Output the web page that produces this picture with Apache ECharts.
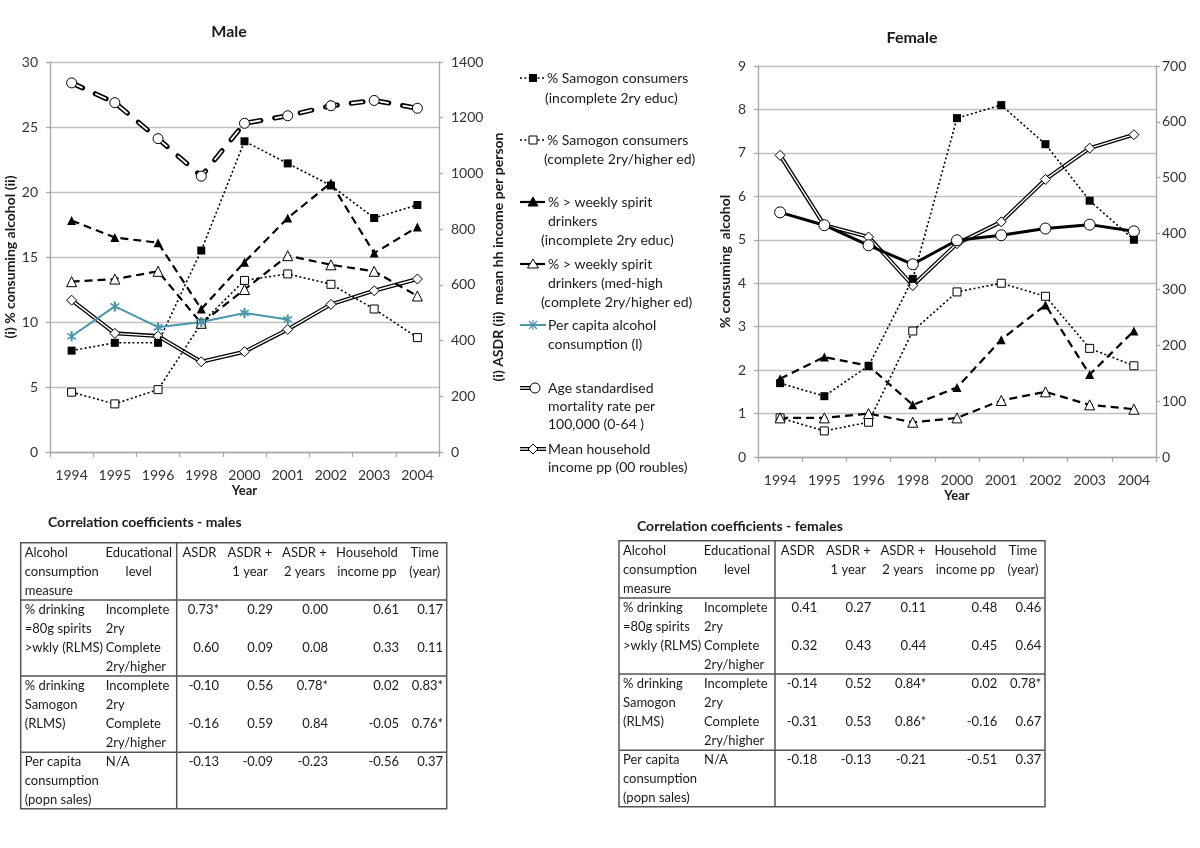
<!DOCTYPE html>
<html><head><meta charset="utf-8">
<script src="https://cdn.jsdelivr.net/npm/echarts@6/dist/echarts.min.js"></script>
<style>html,body{margin:0;padding:0;background:#fff}#c{width:1200px;height:848px}</style>
</head><body><div id="c"></div>
<script>
// ---------- DATA ----------
const years = ['1994','1995','1996','1998','2000','2001','2002','2003','2004'];
// Male: % consuming alcohol (left axis)
const maleSamogonIncomplete = [7.8, 8.4, 8.4, 15.5, 23.9, 22.2, 20.5, 18.0, 19.0];
const maleSamogonComplete   = [4.6, 3.7, 4.8, 9.9, 13.2, 13.7, 12.9, 11.0, 8.8];
const maleWeeklyIncomplete  = [17.8, 16.5, 16.1, 11.0, 14.6, 18.0, 20.7, 15.3, 17.3];
const maleWeeklyComplete    = [13.1, 13.3, 13.9, 9.9, 12.5, 15.1, 14.4, 13.9, 12.0];
const malePerCapita         = [8.9, 11.2, 9.6, 10.0, 10.7, 10.2, null, null, null];
// Male: right axis
const maleASDR   = [1325, 1254, 1125, 990, 1180, 1207, 1243, 1262, 1234];
const maleIncome = [545, 426, 416, 324, 360, 440, 530, 579, 621];
// Female: % consuming alcohol (left axis)
const femaleSamogonIncomplete = [1.7, 1.4, 2.1, 4.1, 7.8, 8.1, 7.2, 5.9, 5.0];
const femaleSamogonComplete   = [0.9, 0.6, 0.8, 2.9, 3.8, 4.0, 3.7, 2.5, 2.1];
const femaleWeeklyIncomplete  = [1.8, 2.3, 2.1, 1.2, 1.6, 2.7, 3.5, 1.9, 2.9];
const femaleWeeklyComplete    = [0.9, 0.9, 1.0, 0.8, 0.9, 1.3, 1.5, 1.2, 1.1];
// Female: right axis
const femaleASDR   = [438, 415, 379, 345, 388, 397, 409, 416, 404];
const femaleIncome = [540, 415, 394, 307, 382, 421, 497, 553, 577];

const legendLabels = [
  ['% Samogon consumers', '(incomplete 2ry educ)'],
  ['% Samogon consumers', '(complete 2ry/higher ed)'],
  ['% > weekly spirit', 'drinkers', '(incomplete 2ry educ)'],
  ['% > weekly spirit', 'drinkers (med-high', '(complete 2ry/higher ed)'],
  ['Per capita alcohol', 'consumption (l)'],
  ['Age standardised', 'mortality rate per', '100,000 (0-64 )'],
  ['Mean household', 'income pp (00 roubles)']
];

// Correlation tables
const tableHeader = [['Alcohol','consumption','measure'], ['Educational','level'], ['ASDR'], ['ASDR +','1 year'], ['ASDR +','2 years'], ['Household','income pp'], ['Time','(year)']];
const measureLabels = [['% drinking','=80g spirits','>wkly (RLMS)'], ['% drinking','Samogon','(RLMS)'], ['Per capita','consumption','(popn sales)']];
const eduLabels = [['Incomplete','2ry','Complete','2ry/higher'], ['Incomplete','2ry','Complete','2ry/higher'], ['N/A']];
const maleCorr = [
  ['0.73*','0.29','0.00','0.61','0.17'],
  ['0.60','0.09','0.08','0.33','0.11'],
  ['-0.10','0.56','0.78*','0.02','0.83*'],
  ['-0.16','0.59','0.84','-0.05','0.76*'],
  ['-0.13','-0.09','-0.23','-0.56','0.37']
];
const femaleCorr = [
  ['0.41','0.27','0.11','0.48','0.46'],
  ['0.32','0.43','0.44','0.45','0.64'],
  ['-0.14','0.52','0.84*','0.02','0.78*'],
  ['-0.31','0.53','0.86*','-0.16','0.67'],
  ['-0.18','-0.13','-0.21','-0.51','0.37']
];

// ---------- STYLE ----------
const FONT = 'Lato, "Liberation Sans", sans-serif';
const AXIS_GRAY = '#a6a6a6';
const GRID_GRAY = '#c0c0c0';
const LABEL_COL = '#333333';
const TEXT_COL = '#1a1a1a';
const TEAL = '#4a97ab';
const ASTERISK = 'path://M-0.9,-6 L0.9,-6 L0.9,6 L-0.9,6 Z M2.97,-4.11 L4.11,-2.97 L-2.97,4.11 L-4.11,2.97 Z M-4.11,-2.97 L-2.97,-4.11 L4.11,2.97 L2.97,4.11 Z';

function catAxis(gi, labelMargin) {
  return {
    type: 'category', gridIndex: gi, data: years, boundaryGap: true,
    axisLine: { lineStyle: { color: AXIS_GRAY, width: 1.3 } },
    axisTick: { show: true, length: 5, interval: 0, lineStyle: { color: AXIS_GRAY, width: 1.3 } },
    axisLabel: { color: LABEL_COL, fontSize: 14, fontFamily: FONT, margin: labelMargin, interval: 0 },
    name: 'Year', nameLocation: 'middle', nameGap: 32,
    nameTextStyle: { fontWeight: 'bold', fontSize: 13, color: TEXT_COL, fontFamily: FONT }
  };
}
function valAxis(gi, max, interval, pos, split, labelMargin, name, nameGap) {
  return {
    type: 'value', gridIndex: gi, min: 0, max: max, interval: interval, position: pos,
    axisLine: { show: true, lineStyle: { color: AXIS_GRAY, width: 1.3 } },
    axisTick: { show: true, length: 4, lineStyle: { color: AXIS_GRAY, width: 1.3 } },
    splitLine: { show: split, lineStyle: { color: GRID_GRAY, width: 1.3 } },
    axisLabel: { color: LABEL_COL, fontSize: 14, fontFamily: FONT, margin: labelMargin,
      formatter: function (v) { return String(v); } },
    name: name, nameLocation: 'middle', nameRotate: 90, nameGap: nameGap,
    nameTextStyle: { fontWeight: 'bold', fontSize: 14, color: TEXT_COL, fontFamily: FONT }
  };
}

function lineSeries(name, data, xi, yi, o) {
  return Object.assign({
    type: 'line', name: name, data: data, xAxisIndex: xi, yAxisIndex: yi,
    connectNulls: false, animation: false, silent: true
  }, o);
}
const dotted = { color: '#000', width: 1.6, type: [2, 2.4] };
const dashed = { color: '#000', width: 2.2, type: [8, 5] };

function alcoholSeries(xi, samInc, samCom, wkInc, wkCom) {
  return [
    lineSeries('% Samogon consumers (incomplete 2ry educ)', samInc, xi, xi * 2, {
      symbol: 'rect', symbolSize: 8, itemStyle: { color: '#000' }, lineStyle: dotted }),
    lineSeries('% Samogon consumers (complete 2ry/higher ed)', samCom, xi, xi * 2, {
      symbol: 'rect', symbolSize: 8, itemStyle: { color: '#fff', borderColor: '#000', borderWidth: 1 }, lineStyle: dotted }),
    lineSeries('% > weekly spirit drinkers (incomplete 2ry educ)', wkInc, xi, xi * 2, {
      symbol: 'triangle', symbolSize: 9, itemStyle: { color: '#000' }, lineStyle: dashed }),
    lineSeries('% > weekly spirit drinkers (complete 2ry/higher ed)', wkCom, xi, xi * 2, {
      symbol: 'triangle', symbolSize: 10, itemStyle: { color: '#fff', borderColor: '#000', borderWidth: 1 }, lineStyle: dashed })
  ];
}
function incomeSeries(xi, data) {
  return [
    lineSeries('Mean household income pp', data, xi, xi * 2 + 1, {
      showSymbol: false, symbol: 'none', lineStyle: { color: '#000', width: 4 }, z: 2 }),
    lineSeries('Mean household income pp ', data, xi, xi * 2 + 1, {
      symbol: 'diamond', symbolSize: 10, itemStyle: { color: '#fff', borderColor: '#000', borderWidth: 1 },
      lineStyle: { color: '#fff', width: 1.4 }, z: 2 })
  ];
}

const series = [].concat(
  incomeSeries(0, maleIncome),
  [
    lineSeries('Age standardised mortality rate', maleASDR, 0, 1, {
      symbol: 'none', lineStyle: { color: '#000', width: 5, type: [12, 14], cap: 'round' } }),
    lineSeries('Age standardised mortality rate ', maleASDR, 0, 1, {
      symbol: 'circle', symbolSize: 10, itemStyle: { color: '#fff', borderColor: '#000', borderWidth: 1 },
      lineStyle: { color: '#fff', width: 1.8, type: [12, 14], cap: 'butt' } })
  ],
  alcoholSeries(0, maleSamogonIncomplete, maleSamogonComplete, maleWeeklyIncomplete, maleWeeklyComplete),
  [
    lineSeries('Per capita alcohol consumption (l)', malePerCapita, 0, 0, {
      symbol: ASTERISK, symbolSize: 10, itemStyle: { color: TEAL }, lineStyle: { color: TEAL, width: 2 } })
  ],
  incomeSeries(1, femaleIncome),
  [
    lineSeries('Age standardised mortality rate', femaleASDR, 1, 3, {
      symbol: 'circle', symbolSize: 11, itemStyle: { color: '#fff', borderColor: '#000', borderWidth: 1 },
      lineStyle: { color: '#000', width: 3 } })
  ],
  alcoholSeries(1, femaleSamogonIncomplete, femaleSamogonComplete, femaleWeeklyIncomplete, femaleWeeklyComplete)
);

// ---------- GRAPHIC: titles, legend, tables ----------
const g = [];
function txt(x, y, s, o) {
  o = o || {};
  g.push({ type: 'text', silent: true, style: {
    text: s, x: x, y: y, fill: o.fill || TEXT_COL, fontSize: o.size || 14,
    fontWeight: o.bold ? 'bold' : 'normal', fontFamily: FONT,
    align: o.align || 'left', textAlign: o.align || 'left',
    verticalAlign: 'middle', textVerticalAlign: 'middle' } });
}
function ln(x1, y1, x2, y2, o) {
  o = o || {};
  g.push({ type: 'line', silent: true, shape: { x1: x1, y1: y1, x2: x2, y2: y2 },
    style: { stroke: o.stroke || '#000', lineWidth: o.w || 1.5, lineDash: o.dash || null, lineCap: o.cap || 'butt' } });
}
function poly(pts, fill, stroke) {
  g.push({ type: 'polygon', silent: true, shape: { points: pts }, style: { fill: fill, stroke: stroke || '#000', lineWidth: 1 } });
}

txt(229, 32, 'Male', { bold: true, size: 16, align: 'center' });
txt(912, 38, 'Female', { bold: true, size: 16, align: 'center' });

// Legend
const legendLayout = [
  { y: [78, 98], x: [547, 545] },
  { y: [140, 159], x: [547, 544] },
  { y: [202, 221, 240], x: [548, 548, 541] },
  { y: [264, 283, 302], x: [548, 548, 541] },
  { y: [325, 344], x: [548, 548] },
  { y: [388, 406, 424], x: [548, 548, 548] },
  { y: [449, 467], x: [548, 548] }
];
legendLabels.forEach(function (lines, i) {
  lines.forEach(function (s, j) { txt(legendLayout[i].x[j], legendLayout[i].y[j], s, { size: 14 }); });
});
(function () {
  let y = 78;
  ln(520, y, 545, y, { dash: [2, 2.4], w: 1.6 });
  g.push({ type: 'rect', silent: true, shape: { x: 529, y: y - 4, width: 8, height: 8 }, style: { fill: '#000' } });
  y = 140;
  ln(520, y, 545, y, { dash: [2, 2.4], w: 1.6 });
  g.push({ type: 'rect', silent: true, shape: { x: 529, y: y - 4, width: 8, height: 8 }, style: { fill: '#fff', stroke: '#000', lineWidth: 1 } });
  y = 202;
  ln(520, y, 545, y, { w: 2.2 });
  poly([[533, y - 5], [538, y + 4], [528, y + 4]], '#000');
  y = 264;
  ln(520, y, 545, y, { w: 2.2 });
  poly([[533, y - 5], [538.5, y + 4], [527.5, y + 4]], '#fff');
  y = 325;
  ln(520, y, 546, y, { w: 2, stroke: TEAL });
  ln(533, y - 5, 533, y + 5, { w: 1.2, stroke: TEAL });
  ln(529, y - 4, 537, y + 4, { w: 1.2, stroke: TEAL });
  ln(529, y + 4, 537, y - 4, { w: 1.2, stroke: TEAL });
  y = 388;
  ln(520, y, 531, y, { w: 4 });
  ln(520, y, 531, y, { w: 1.4, stroke: '#fff' });
  g.push({ type: 'circle', silent: true, shape: { cx: 535, cy: y, r: 5 }, style: { fill: '#fff', stroke: '#000', lineWidth: 1 } });
  y = 449;
  ln(520, y, 546, y, { w: 4 });
  ln(520, y, 546, y, { w: 1.4, stroke: '#fff' });
  poly([[533, y - 5], [538, y], [533, y + 5], [528, y]], '#fff');
})();

// Tables
const TS = 13;
function drawTable(ox, oy, title, tx, ty, corr) {
  txt(tx, ty, title, { bold: true, size: 14 });
  const W = 426, H = 266;
  g.push({ type: 'rect', silent: true, shape: { x: ox, y: oy, width: W, height: H }, style: { fill: 'none', stroke: '#555', lineWidth: 1.5 } });
  ln(ox + 156, oy, ox + 156, oy + H, { stroke: '#555' });
  const hl = [57.3, 133.3, 209.6];
  hl.forEach(function (h) { ln(ox, oy + h, ox + W, oy + h, { stroke: '#555' }); });
  const step = 19;
  const o = { size: TS };
  const oc = { size: TS, align: 'center' };
  const orr = { size: TS, align: 'right' };
  tableHeader[0].forEach(function (s, j) { txt(ox + 4, oy + 10 + j * step, s, o); });
  tableHeader[1].forEach(function (s, j) { txt(ox + 118, oy + 10 + j * step, s, oc); });
  const hc = [178.8, 229.3, 283.8, 346.3, 404];
  for (let c = 2; c < tableHeader.length; c++) {
    tableHeader[c].forEach(function (s, j) { txt(ox + hc[c - 2], oy + 10 + j * step, s, oc); });
  }
  const secTop = [hl[0] + 10, hl[1] + 10, hl[2] + 10];
  measureLabels.forEach(function (lines, k) {
    lines.forEach(function (s, j) { txt(ox + 4, oy + secTop[k] + j * step, s, o); });
  });
  eduLabels.forEach(function (lines, k) {
    lines.forEach(function (s, j) { txt(ox + 85, oy + secTop[k] + j * step, s, o); });
  });
  const rowY = [secTop[0], secTop[0] + 2 * step, secTop[1], secTop[1] + 2 * step, secTop[2]];
  const cr = [198.3, 252.3, 307.3, 378.3, 422.3];
  corr.forEach(function (row, r) {
    row.forEach(function (s, c) { txt(ox + cr[c], oy + rowY[r], s, orr); });
  });
}
drawTable(20.7, 542.7, 'Correlation coefficients - males', 48, 522, maleCorr);
drawTable(619, 540.7, 'Correlation coefficients - females', 637, 526, femaleCorr);

const chart = echarts.init(document.getElementById('c'), null, { renderer: 'canvas' });
chart.setOption({
  animation: false,
  backgroundColor: '#fff',
  textStyle: { fontFamily: FONT },
  grid: [
    { left: 50, top: 62, width: 389, height: 390, containLabel: false, outerBoundsMode: 'none' },
    { left: 758, top: 66, width: 398, height: 391, containLabel: false, outerBoundsMode: 'none' }
  ],
  xAxis: [catAxis(0, 16), catAxis(1, 16)],
  yAxis: [
    valAxis(0, 30, 5, 'left', true, 12, '(i) % consuming alcohol (ii)', 28),
    valAxis(0, 1400, 200, 'right', false, 12, '(i) ASDR (ii)  mean hh income per person', 52),
    valAxis(1, 9, 1, 'left', true, 12, '% consuming  alcohol', 26),
    valAxis(1, 700, 100, 'right', false, 6, '', 40)
  ],
  series: series,
  graphic: g
});
</script>
</body></html>
